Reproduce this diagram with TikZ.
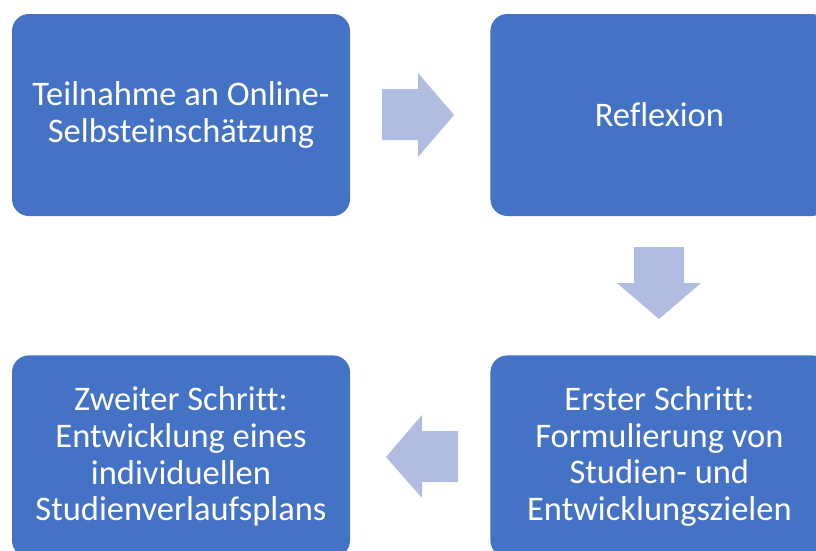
\documentclass[tikz,border=0pt]{standalone}
\usepackage{fontspec}
\setmainfont{Carlito}[Ligatures=CommonOff]
\usetikzlibrary{positioning}
\definecolor{boxblue}{HTML}{4472C4}
\definecolor{arrowblue}{HTML}{B0BCE0}
\tikzset{stepbox/.style={fill=boxblue,rounded corners=17pt,minimum width=338pt,minimum height=202pt,
  inner sep=0pt,text=white,align=center,font=\fontsize{34.5}{36.8}\selectfont},
  blockarrow/.style={fill=arrowblue}}

\begin{document}
\begin{tikzpicture}[x=1pt,y=-1pt]
\useasboundingbox (0,0) rectangle (816,550);
\clip (0,0) rectangle (816,550);
\node[stepbox] (teil) at (181,115) {Teilnahme an Online-\\Selbsteinschätzung};
\node[stepbox,right=140pt of teil] (refl) {Reflexion};
\node[stepbox,below=139pt of refl] (erst) {Erster Schritt:\\Formulierung von\\Studien- und\\Entwicklungszielen};
\node[stepbox,left=140pt of erst] (zweit) {Zweiter Schritt:\\Entwicklung eines\\individuellen\\Studienverlaufsplans};
% block arrows
\fill[blockarrow] (382,89) -- (418,89) -- (418,73) -- (454,115) -- (418,157) -- (418,140) -- (382,140) -- cycle;
\fill[blockarrow] (634,247) -- (684,247) -- (684,283) -- (701,283) -- (659,319) -- (617,283) -- (634,283) -- cycle;
\fill[blockarrow] (458,431) -- (422,431) -- (422,415) -- (386,457) -- (422,498) -- (422,482) -- (458,482) -- cycle;
\end{tikzpicture}
\end{document}
